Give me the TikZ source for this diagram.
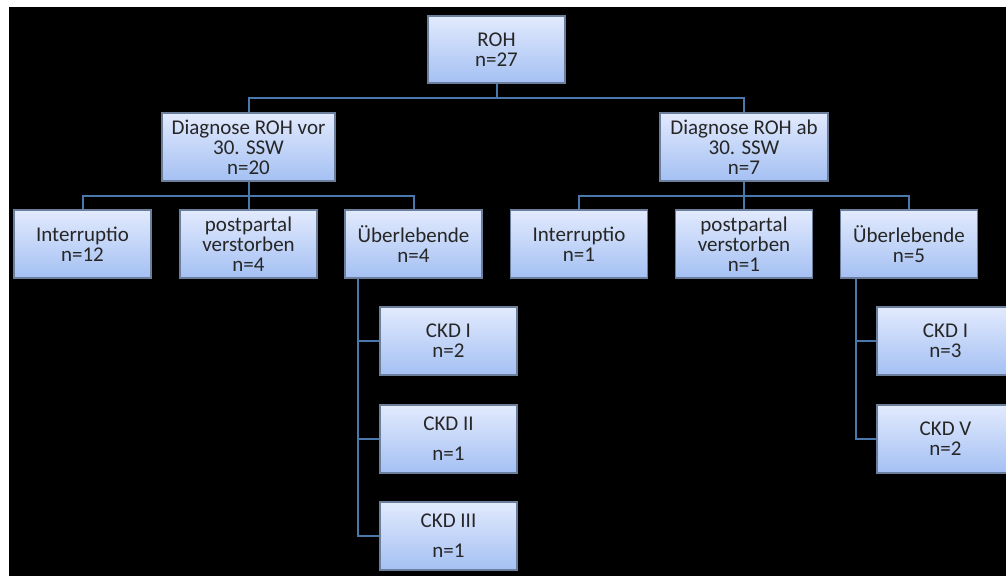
\documentclass[tikz,border=0pt]{standalone}
\usepackage{fontspec}
\setmainfont{Carlito}
\definecolor{boxtop}{HTML}{E2EAFD}
\definecolor{boxbot}{HTML}{A4C0F3}
\definecolor{boxedge}{HTML}{6B7E9C}
\definecolor{linkblue}{HTML}{4A78AC}

\begin{document}
\begin{tikzpicture}[x=1pt, y=-1pt,
	every node/.style={font=\fontsize{21}{20}\selectfont, text=black!85},
	box/.style={draw=boxedge, line width=1.2pt, top color=boxtop, bottom color=boxbot,
		minimum width=137pt, minimum height=68pt, align=center, inner sep=2pt},
	link/.style={draw=linkblue, line width=2pt}]
	\useasboundingbox (0,0) rectangle (1006,576);
	\fill[white] (0,0) rectangle (1006,576);
	\fill[black] (9,7) rectangle (1006,576);
	% top
	\node[box, minimum height=67pt] (roh) at (496.5,49.5) {ROH\\n=27};
	\node[box, minimum width=173pt] (vor) at (248.5,147) {Diagnose ROH vor\\30. SSW\\n=20};
	\node[box, minimum width=168pt] (ab) at (744,147) {Diagnose ROH ab\\30. SSW\\n=7};
	% second row
	\node[box] (intvor) at (82.5,244) {Interruptio\\n=12};
	\node[box] (postvor) at (248.5,244) {postpartal\\verstorben\\n=4};
	\node[box] (uebvor) at (413.5,244) {Überlebende\\n=4};
	\node[box] (intab) at (579,244) {Interruptio\\n=1};
	\node[box] (postab) at (744,244) {postpartal\\verstorben\\n=1};
	\node[box] (uebab) at (909,244) {Überlebende\\n=5};
	% CKD stages
	\node[box] (ckdvorI) at (448.5,341) {CKD I\\n=2};
	\node[box] (ckdvorII) at (448.5,439) {CKD II\\[10pt]n=1};
	\node[box] (ckdvorIII) at (448.5,536) {CKD III\\[10pt]n=1};
	\node[box] (ckdabI) at (945.5,341) {CKD I\\n=3};
	\node[box] (ckdabV) at (945.5,439) {CKD V\\n=2};
	% connectors
	\coordinate (bartop) at (0,98);
	\coordinate (barmid) at (0,195.5);
	\draw[link] (roh.south) -- (roh.south |- bartop) -| (vor.north);
	\draw[link] (roh.south |- bartop) -| (ab.north);
	\draw[link] (vor.south) -- (vor.south |- barmid) -| (intvor.north);
	\draw[link] (vor.south |- barmid) -| (uebvor.north);
	\draw[link] (vor.south |- barmid) -- (postvor.north);
	\draw[link] (ab.south) -- (ab.south |- barmid) -| (intab.north);
	\draw[link] (ab.south |- barmid) -| (uebab.north);
	\draw[link] (ab.south |- barmid) -- (postab.north);
	\coordinate (spinevor) at ([xshift=14pt]uebvor.south west);
	\coordinate (spineab) at ([xshift=16pt]uebab.south west);
	\draw[link] (spinevor) |- (ckdvorI.west);
	\draw[link] (spinevor) |- (ckdvorII.west);
	\draw[link] (spinevor) |- (ckdvorIII.west);
	\draw[link] (spineab) |- (ckdabI.west);
	\draw[link] (spineab) |- (ckdabV.west);
\end{tikzpicture}
\end{document}
